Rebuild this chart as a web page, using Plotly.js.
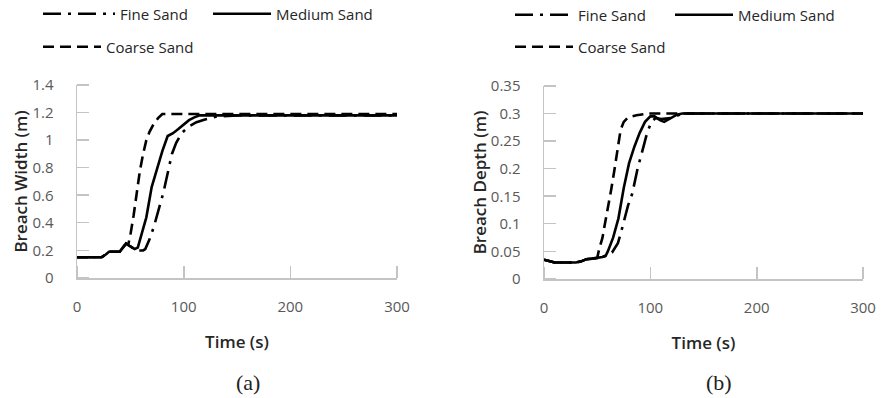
<!DOCTYPE html>
<html>
<head>
<meta charset="utf-8">
<script src="https://cdn.plot.ly/plotly-3.0.1.min.js"></script>
<style>html,body{margin:0;padding:0;background:#fff;}#chart{width:882px;height:398px;}</style>
</head>
<body>
<div id="chart"></div>
<script>
// ---------- Panel (a): Breach Width (m) ----------
const widthFineT   = [0, 10, 20, 23, 27, 30, 35, 40, 43, 46, 50, 54, 58, 62, 64, 68, 72, 77, 81, 85, 89, 93, 98, 105, 112, 120, 130, 150, 200, 250, 300];
const widthFineV   = [0.15, 0.15, 0.15, 0.15, 0.17, 0.19, 0.19, 0.19, 0.22, 0.25, 0.23, 0.21, 0.2, 0.2, 0.21, 0.28, 0.37, 0.5, 0.62, 0.76, 0.9, 0.98, 1.05, 1.1, 1.13, 1.15, 1.17, 1.18, 1.18, 1.18, 1.18];
const widthMediumT = [0, 10, 20, 23, 27, 30, 35, 40, 43, 46, 50, 54, 57, 60, 65, 70, 75, 80, 85, 90, 95, 100, 105, 110, 115, 120, 150, 200, 250, 300];
const widthMediumV = [0.15, 0.15, 0.15, 0.15, 0.17, 0.19, 0.19, 0.19, 0.22, 0.25, 0.23, 0.21, 0.22, 0.31, 0.44, 0.66, 0.79, 0.92, 1.03, 1.05, 1.08, 1.11, 1.145, 1.165, 1.18, 1.18, 1.18, 1.18, 1.18, 1.18];
const widthCoarseT = [0, 10, 20, 23, 27, 30, 35, 40, 43, 46, 48, 50, 53, 56, 59, 62, 65, 68, 72, 76, 80, 100, 150, 200, 250, 300];
const widthCoarseV = [0.15, 0.15, 0.15, 0.15, 0.17, 0.19, 0.19, 0.19, 0.22, 0.25, 0.24, 0.31, 0.45, 0.62, 0.78, 0.9, 1.0, 1.06, 1.12, 1.16, 1.19, 1.19, 1.19, 1.19, 1.19, 1.19];

// ---------- Panel (b): Breach Depth (m) ----------
const depthFineT   = [0, 5, 10, 20, 30, 35, 40, 45, 50, 55, 58, 60, 64, 69.5, 72.5, 76, 79, 83, 85, 88, 91.5, 94, 97, 101, 105, 110, 120, 130, 150, 200, 250, 300];
const depthFineV   = [0.035, 0.032, 0.03, 0.03, 0.03, 0.032, 0.036, 0.037, 0.038, 0.04, 0.042, 0.043, 0.048, 0.065, 0.085, 0.11, 0.133, 0.155, 0.175, 0.2, 0.225, 0.245, 0.265, 0.285, 0.292, 0.29, 0.292, 0.3, 0.3, 0.3, 0.3, 0.3];
const depthMediumT = [0, 5, 10, 20, 30, 35, 40, 45, 50, 55, 58, 60, 65, 70, 75, 80, 85, 90, 95, 100, 104, 109, 113, 118, 125, 130, 150, 200, 250, 300];
const depthMediumV = [0.035, 0.032, 0.03, 0.03, 0.03, 0.032, 0.036, 0.037, 0.038, 0.04, 0.042, 0.05, 0.075, 0.11, 0.165, 0.21, 0.24, 0.265, 0.285, 0.295, 0.295, 0.288, 0.285, 0.29, 0.298, 0.3, 0.3, 0.3, 0.3, 0.3];
const depthCoarseT = [0, 5, 10, 20, 30, 35, 40, 45, 50, 52, 55, 57, 60, 63, 66, 69, 72, 75, 79, 87, 98, 150, 200, 250, 300];
const depthCoarseV = [0.035, 0.032, 0.03, 0.03, 0.03, 0.032, 0.036, 0.037, 0.038, 0.055, 0.075, 0.097, 0.127, 0.16, 0.195, 0.235, 0.27, 0.285, 0.293, 0.297, 0.3, 0.3, 0.3, 0.3, 0.3];

// ---------- Tick labels ----------
const timeTicks = [0, 100, 200, 300];
const timeTickText = ['0', '100', '200', '300'];
const widthTicks = [0, 0.2, 0.4, 0.6, 0.8, 1, 1.2, 1.4];
const widthTickText = ['0', '0.2', '0.4', '0.6', '0.8', '1', '1.2', '1.4'];
const depthTicks = [0, 0.05, 0.1, 0.15, 0.2, 0.25, 0.3, 0.35];
const depthTickText = ['0', '0.05', '0.1', '0.15', '0.2', '0.25', '0.3', '0.35'];

const seriesNames = ['Fine Sand', 'Medium Sand', 'Coarse Sand'];

const FONT = 'Open Sans, Noto Sans, sans-serif';
const dashFine = '18px,7px,3px,7px';
const dashCoarse = '11px,6px';
const LW = 2.6;

const traces = [
  {x: widthFineT, y: widthFineV, name: seriesNames[0], xaxis: 'x', yaxis: 'y', legend: 'legend2', line: {color: '#000', width: LW, dash: dashFine}},
  {x: widthMediumT, y: widthMediumV, name: seriesNames[1], xaxis: 'x', yaxis: 'y', legend: 'legend3', line: {color: '#000', width: LW, dash: 'solid'}},
  {x: widthCoarseT, y: widthCoarseV, name: seriesNames[2], xaxis: 'x', yaxis: 'y', legend: 'legend4', line: {color: '#000', width: LW, dash: dashCoarse}},
  {x: depthFineT, y: depthFineV, name: seriesNames[0], xaxis: 'x2', yaxis: 'y2', legend: 'legend5', line: {color: '#000', width: LW, dash: dashFine}},
  {x: depthMediumT, y: depthMediumV, name: seriesNames[1], xaxis: 'x2', yaxis: 'y2', legend: 'legend6', line: {color: '#000', width: LW, dash: 'solid'}},
  {x: depthCoarseT, y: depthCoarseV, name: seriesNames[2], xaxis: 'x2', yaxis: 'y2', legend: 'legend7', line: {color: '#000', width: LW, dash: dashCoarse}}
].map(t => Object.assign({type: 'scatter', mode: 'lines', showlegend: true}, t));

const AX = '#c4c4c4';
const tickFont = {family: FONT, size: 15, color: '#595959'};
const titleFont = {family: FONT, size: 17, color: '#262626', weight: 600};
const CROSS = 6; // half-length of the cross-shaped tick marks

// Cross-shaped tick marks: drawn as minor ticks (nudged a hair off the major ones, towards the
// inside of the range); the major ticks are transparent and only space the labels.
function minorCross(tv, range, nudge) {
  return {tickmode: 'array', tickvals: tv.map(v => (v >= range[1] ? v - nudge : v + nudge)),
    ticks: 'inside', ticklen: 2 * CROSS, tickwidth: 1.5, tickcolor: AX, showgrid: false};
}
function xAxis(domain, anchor) {
  const range = [0, 300];
  return {domain: domain, anchor: anchor, range: range, tickvals: timeTicks, ticktext: timeTickText,
    ticks: 'outside', ticklen: 8, tickwidth: 1, tickcolor: 'rgba(0,0,0,0)', showline: true, linecolor: AX, linewidth: 1.5,
    minor: minorCross(timeTicks, range, 0.2),
    showgrid: false, zeroline: false, tickfont: tickFont, ticklabelstandoff: CROSS, fixedrange: true,
    title: {text: 'Time (s)', font: titleFont, standoff: 21}};
}
function yAxis(domain, anchor, range, tv, tt, title) {
  return {domain: domain, anchor: anchor, range: range, tickvals: tv, ticktext: tt,
    ticks: 'outside', ticklen: 13, tickwidth: 1, tickcolor: 'rgba(0,0,0,0)', showline: true, linecolor: AX, linewidth: 1.5,
    minor: minorCross(tv, range, range[1] * 0.0008),
    showgrid: false, zeroline: false, tickfont: tickFont, ticklabelstandoff: CROSS, fixedrange: true,
    title: {text: title, font: titleFont, standoff: 0}};
}

const xdA = [77 / 882, 397 / 882];
const xdB = [544 / 882, 863 / 882];
const ydA = [120 / 398, 313 / 398];
const ydB = [119 / 398, 312 / 398];

const legendFont = {family: FONT, size: 15, color: '#262626'};
function legendAt(xpx, ypx, iw) {
  return {x: xpx / 882, y: 1 - ypx / 398, xanchor: 'left', yanchor: 'middle', orientation: 'h', font: legendFont,
    bgcolor: 'rgba(0,0,0,0)', borderwidth: 0, itemwidth: iw || 58, itemclick: false, itemdoubleclick: false};
}

const layout = {
  width: 882, height: 398,
  margin: {l: 0, r: 0, t: 0, b: 0, autoexpand: false},
  paper_bgcolor: '#fff', plot_bgcolor: '#fff',
  showlegend: true,
  xaxis: xAxis(xdA, 'y'),
  yaxis: yAxis(ydA, 'x', [0, 1.4], widthTicks, widthTickText, 'Breach Width (m)'),
  xaxis2: xAxis(xdB, 'y2'),
  yaxis2: yAxis(ydB, 'x2', [0, 0.35], depthTicks, depthTickText, 'Breach Depth (m)'),
  legend2: legendAt(38, 14, 72),
  legend3: legendAt(208, 14),
  legend4: legendAt(38, 47),
  legend5: legendAt(510, 15),
  legend6: legendAt(670, 15),
  legend7: legendAt(510, 47),
  annotations: [
    {text: '(a)', x: 248 / 882, y: 1 - 382 / 398, xref: 'paper', yref: 'paper', showarrow: false, xanchor: 'center', yanchor: 'middle',
     font: {family: 'Liberation Serif, DejaVu Serif, serif', size: 22, color: '#222'}},
    {text: '(b)', x: 719 / 882, y: 1 - 382 / 398, xref: 'paper', yref: 'paper', showarrow: false, xanchor: 'center', yanchor: 'middle',
     font: {family: 'Liberation Serif, DejaVu Serif, serif', size: 22, color: '#222'}}
  ]
};

Plotly.newPlot('chart', traces, layout, {staticPlot: true, displayModeBar: false});
</script>
</body>
</html>
